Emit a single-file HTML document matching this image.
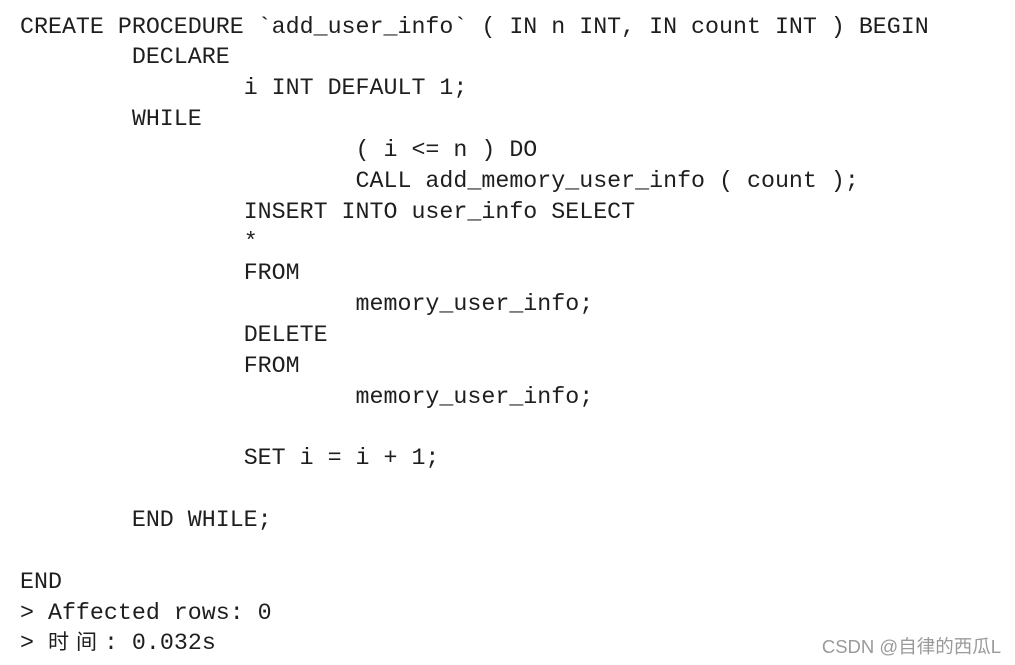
<!DOCTYPE html>
<html><head><meta charset="utf-8"><style>
html,body{margin:0;padding:0;background:#fff;width:1015px;height:665px;overflow:hidden;position:relative}
pre{position:absolute;left:20px;top:11.5px;margin:0;font-family:"Liberation Mono","Noto Sans CJK SC",monospace;font-size:23.3px;line-height:30.85px;color:#1e1e1e;tab-size:8}
.cj{display:inline-block;width:28px;font-size:21px;text-align:left}
.wm{position:absolute;right:14px;top:633px;font-family:"Liberation Sans","Noto Sans CJK SC",sans-serif;font-size:18.5px;color:#9a9a9a}
</style></head><body>
<pre>CREATE PROCEDURE `add_user_info` ( IN n INT, IN count INT ) BEGIN
	DECLARE
		i INT DEFAULT 1;
	WHILE
			( i &lt;= n ) DO
			CALL add_memory_user_info ( count );
		INSERT INTO user_info SELECT
		*
		FROM
			memory_user_info;
		DELETE
		FROM
			memory_user_info;

		SET i = i + 1;

	END WHILE;

END
&gt; Affected rows: 0
&gt; <span class="cj">时</span><span class="cj">间</span>: 0.032s</pre>
<div class="wm">CSDN @自律的西瓜L</div>
</body></html>
